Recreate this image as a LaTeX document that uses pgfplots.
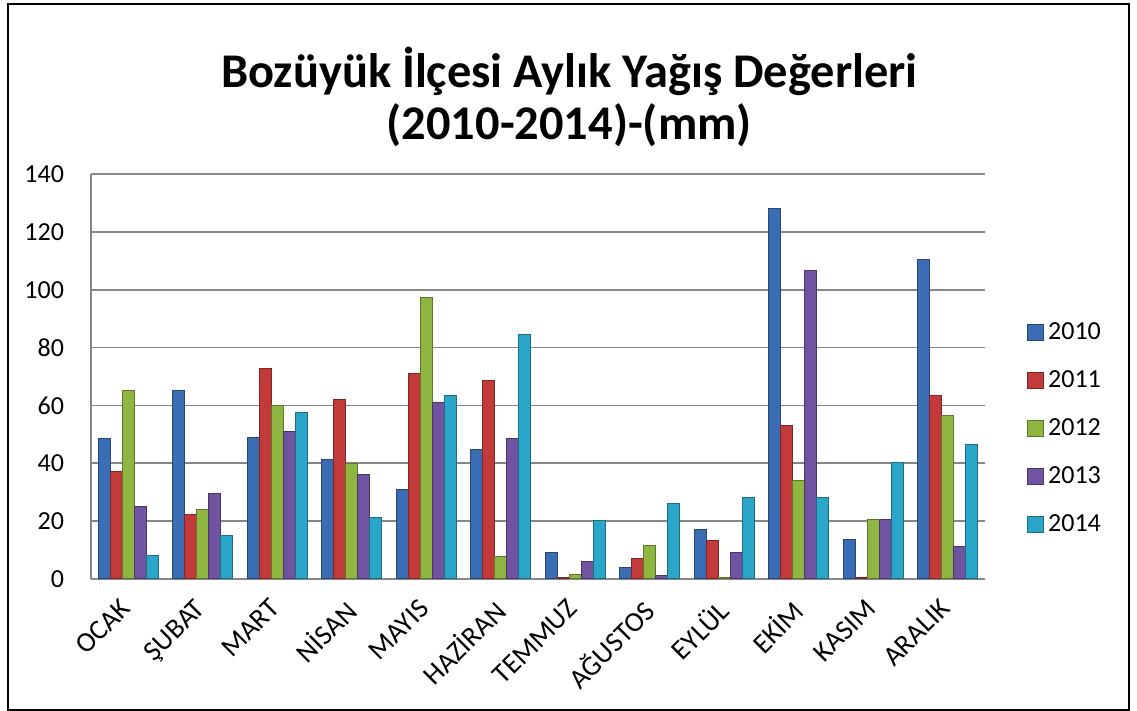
\documentclass[border=0pt]{standalone}
\usepackage{fontspec}
\setmainfont{Carlito}
\usepackage{pgfplots}
\pgfplotsset{compat=1.18}
\definecolor{c10}{HTML}{3A6DB4}
\definecolor{c11}{HTML}{C23B3A}
\definecolor{c12}{HTML}{90B642}
\definecolor{c13}{HTML}{7053A1}
\definecolor{c14}{HTML}{2BA6C8}
\definecolor{gridc}{HTML}{878787}
\pgfplotsset{
  bar3d/.style={fill=#1, draw=#1!65!black}
}
\begin{document}
\begin{tikzpicture}
\useasboundingbox (0pt,0pt) rectangle (568.5pt,355.5pt);
\fill[white] (0pt,0pt) rectangle (568.5pt,355.5pt);
\draw[line width=1.1pt,black] (4pt,0.5pt) rectangle (564.5pt,353.5pt);
\begin{axis}[
  at={(45.5pt,66pt)}, anchor=south west,
  scale only axis, width=447pt, height=202.5pt,
  ymin=0, ymax=140, ytick={0,20,...,140},
  xmin=-0.5, xmax=11.5, xtick={0,...,11},
  xticklabels={OCAK,ŞUBAT,MART,NİSAN,MAYIS,HAZİRAN,TEMMUZ,AĞUSTOS,EYLÜL,EKİM,KASIM,ARALIK},
  axis x line*=bottom, axis y line*=left,
  axis line style={gridc, line width=0.9pt},
  ymajorgrids, grid style={gridc, line width=0.9pt},
  major tick length=0pt,
  tick label style={font=\fontsize{13}{15}\selectfont},
  /pgf/number format/assume math mode=true,
  yticklabel style={xshift=-10pt},
  xticklabel style={font=\fontsize{14}{16}\selectfont, xshift=-4.5pt, yshift=-9pt, rotate=45, anchor=north east, inner sep=0pt},
  ybar, bar width=0.16,
  every axis plot/.append style={line width=0.5pt},
  legend style={draw=none, at={(axis description cs:1.04,0.372)}, anchor=west,
    font=\fontsize{13}{15}\selectfont, row sep=10.1pt, fill=none},
  legend cell align=left,
  legend image code/.code={\path[#1] (0pt,-4pt) rectangle (8pt,4pt);},
  title={Bozüyük İlçesi Aylık Yağış Değerleri\\(2010-2014)-(mm)},
  title style={font=\bfseries\fontsize{24.2}{26}\selectfont, align=center,
    at={(axis description cs:0.535,1.16)}, anchor=center},
]
\addplot[bar3d=c10, bar shift=-0.32] coordinates {
(0,48.4) (1,65.0) (2,48.8) (3,41.4) (4,31.1) (5,44.6) (6,9.0) (7,3.8) (8,17.0) (9,128.2) (10,13.6) (11,110.5)};
\addplot[bar3d=c11, bar shift=-0.16] coordinates {
(0,37.0) (1,22.4) (2,72.9) (3,61.9) (4,71.2) (5,68.5) (6,0.5) (7,7.0) (8,13.2) (9,53.2) (10,0.4) (11,63.6)};
\addplot[bar3d=c12, bar shift=0] coordinates {
(0,65.0) (1,23.9) (2,60.1) (3,39.8) (4,97.2) (5,7.9) (6,1.5) (7,11.7) (8,0.4) (9,33.9) (10,20.7) (11,56.6)};
\addplot[bar3d=c13, bar shift=0.16] coordinates {
(0,25.0) (1,29.5) (2,51.1) (3,36.0) (4,61.1) (5,48.4) (6,5.9) (7,1.1) (8,9.0) (9,106.7) (10,20.7) (11,11.4)};
\addplot[bar3d=c14, bar shift=0.32] coordinates {
(0,8.0) (1,15.0) (2,57.7) (3,21.1) (4,63.6) (5,84.4) (6,20.1) (7,26.2) (8,28.3) (9,28.3) (10,40.4) (11,46.6)};
\legend{2010,2011,2012,2013,2014}
\end{axis}
\end{tikzpicture}
\end{document}
